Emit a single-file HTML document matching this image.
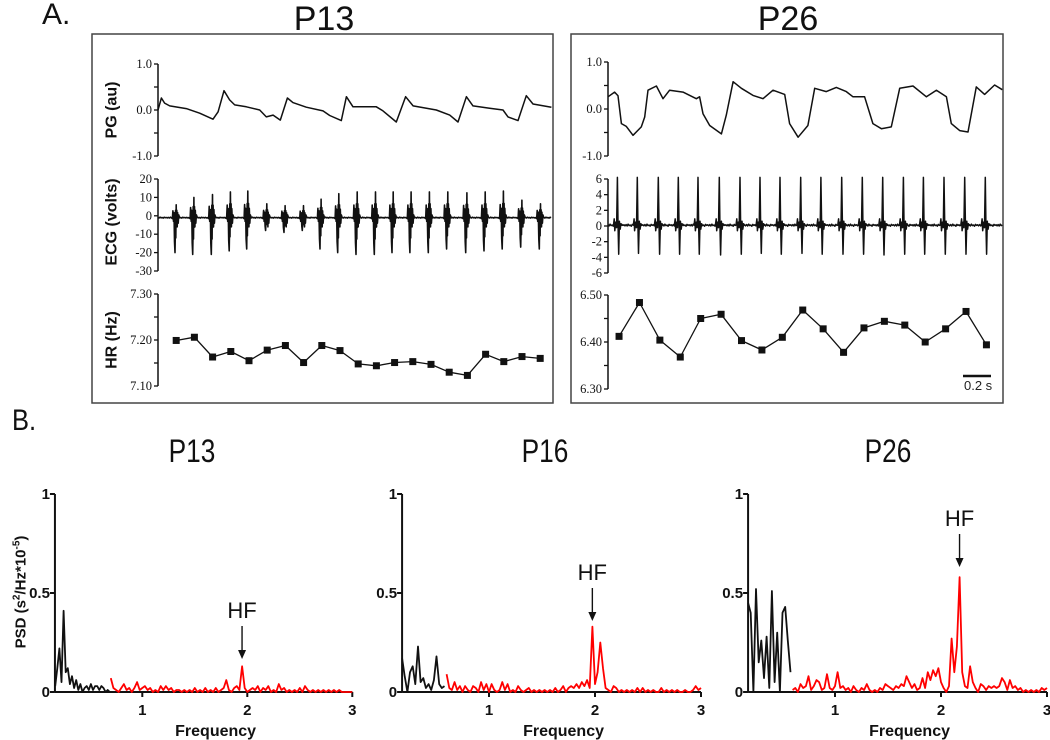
<!DOCTYPE html>
<html><head><meta charset="utf-8"><style>
body{margin:0;background:#fff}
svg{display:block}
.tk{font-family:"Liberation Serif",serif;font-size:12.5px;fill:#111}
.al{font-family:"Liberation Sans",sans-serif;font-weight:bold;font-size:16px;fill:#111}
.tt{font-family:"Liberation Sans",sans-serif;font-size:34px;fill:#111}
.bt{font-family:"Liberation Sans",sans-serif;font-weight:bold;font-size:14px;fill:#111}
</style></head><body>
<svg id="fig" width="1050" height="740" viewBox="0 0 1050 740" xmlns="http://www.w3.org/2000/svg">
<text x="42" y="24" class="tt" style="font-size:30px">A.</text>
<text x="324" y="30" text-anchor="middle" class="tt">P13</text>
<text x="788" y="30" text-anchor="middle" class="tt">P26</text>
<rect x="92" y="34" width="461" height="369" fill="none" stroke="#444" stroke-width="1.5"/>
<rect x="571" y="34" width="432" height="369" fill="none" stroke="#444" stroke-width="1.5"/>
<text x="12" y="430" class="tt" style="font-size:30px;" transform="translate(12,430) scale(0.85,1) translate(-12,-430)">B.</text>
<text x="192" y="462" text-anchor="middle" class="tt" style="font-size:32px" transform="translate(192,0) scale(0.82,1) translate(-192,0)">P13</text>
<text x="545" y="462" text-anchor="middle" class="tt" style="font-size:32px" transform="translate(545,0) scale(0.82,1) translate(-545,0)">P16</text>
<text x="888" y="462" text-anchor="middle" class="tt" style="font-size:32px" transform="translate(888,0) scale(0.82,1) translate(-888,0)">P26</text>
<g id="g"></g>
<line x1="963" y1="376" x2="991" y2="376" stroke="#111" stroke-width="2.5"/>
<text x="964" y="390" style="font-family:'Liberation Sans',sans-serif;font-size:13px;fill:#222">0.2 s</text>
</svg>
<script>
// ---- Panel A data ----
const p13PgT=[0,0.026,0.051,0.09,0.218,0.321,0.423,0.462,0.508,0.551,0.590,0.679,0.782,0.833,0.885,0.941,0.995,1.038,1.141,1.269,1.321,1.410,1.449,1.5,1.679,1.731,1.833,1.905,1.962,2.141,2.244,2.308,2.372,2.423,2.551,2.654,2.692,2.769,2.833,2.885,3.026];
const p13PgV=[0,0.26,0.15,0.09,0.03,-0.07,-0.2,-0.04,0.42,0.22,0.11,0.07,0,-0.15,-0.11,-0.22,0.26,0.16,0.06,-0.02,-0.12,-0.23,0.29,0.07,0.07,-0.02,-0.26,0.29,0.09,0,-0.11,-0.26,0.29,0.09,0.04,0,-0.15,-0.23,0.31,0.13,0.06];
const p26PgT=[0,0.051,0.077,0.103,0.141,0.192,0.256,0.282,0.308,0.372,0.423,0.474,0.577,0.679,0.705,0.731,0.782,0.872,0.91,0.962,1.026,1.115,1.192,1.269,1.359,1.397,1.462,1.538,1.59,1.679,1.756,1.833,1.885,1.974,2.038,2.103,2.179,2.244,2.346,2.449,2.526,2.603,2.641,2.705,2.769,2.833,2.897,2.974,3.033];
const p26PgV=[0.26,0.36,0.28,-0.31,-0.37,-0.56,-0.38,-0.17,0.4,0.49,0.22,0.4,0.36,0.22,0.26,-0.1,-0.35,-0.53,-0.13,0.58,0.44,0.29,0.22,0.4,0.31,-0.31,-0.6,-0.35,0.44,0.37,0.46,0.37,0.26,0.26,-0.31,-0.42,-0.38,0.44,0.49,0.26,0.4,0.26,-0.31,-0.46,-0.49,0.47,0.31,0.51,0.41];
const p13BeatT=[0.131,0.267,0.41,0.548,0.682,0.828,0.969,1.11,1.246,1.382,1.523,1.664,1.8,1.938,2.079,2.22,2.367,2.508,2.648,2.79,2.933];
const p13BeatUp=[6,10,11.5,13,13.5,6.5,5.5,5.5,9,12,13,13,13,13,13,13,12.5,13,13.5,8.5,6.5];
const p13BeatDown=[-20,-21,-21,-19,-18,-8,-9,-8,-18,-20,-21,-21,-20,-20,-20,-18,-20,-19,-18,-17,-18];
const p26BeatT=[0.072,0.225,0.387,0.541,0.692,0.856,1.015,1.169,1.323,1.482,1.638,1.798,1.956,2.113,2.272,2.426,2.585,2.744,2.902];
const p26BeatUp=[6.2,6.2,6.2,6.2,6.2,6.2,6.2,6.2,6.2,6.2,6.2,6.2,6.2,6.2,6.2,6.2,6.2,6.2,6.2];
const p26BeatDown=[-3.6,-3.5,-3.6,-3.6,-3.6,-3.7,-3.6,-3.5,-3.6,-3.5,-3.6,-3.6,-3.6,-3.7,-3.6,-3.6,-3.6,-3.6,-3.6];
const p13HrT=[0.14,0.28,0.42,0.56,0.70,0.84,0.98,1.12,1.26,1.40,1.54,1.68,1.82,1.96,2.10,2.24,2.38,2.52,2.66,2.80,2.94];
const p13HrV=[7.199,7.206,7.163,7.175,7.155,7.178,7.188,7.151,7.188,7.177,7.148,7.144,7.151,7.153,7.147,7.13,7.123,7.169,7.153,7.164,7.160];
const p26HrT=[0.085,0.242,0.399,0.556,0.713,0.87,1.027,1.184,1.341,1.498,1.655,1.812,1.969,2.126,2.283,2.44,2.597,2.754,2.911];
const p26HrV=[6.412,6.484,6.404,6.368,6.450,6.459,6.403,6.383,6.410,6.468,6.428,6.378,6.430,6.444,6.436,6.400,6.428,6.465,6.394];
const pgTicks=["-1.0","0.0","1.0"];
const p13EcgTicks=["-30","-20","-10","0","10","20"];
const p26EcgTicks=["-6","-4","-2","0","2","4","6"];
const p13HrTicks=["7.10","7.20","7.30"];
const p26HrTicks=["6.30","6.40","6.50"];
// ---- Panel B data ----
const psdP13Black=[0.03,0.12,0.22,0.05,0.41,0.1,0.12,0.04,0.08,0.02,0.06,0.01,0.04,0.0,0.02,0.03,0.01,0.04,0.01,0.03,0.03,0.01,0.03,0.02,0.0,0.01,0.0];
const psdP13Red=[0.07,0.02,0.01,0.0,0.02,0.04,0.01,0.02,0.0,0.02,0.05,0.01,0.02,0.03,0.01,0.02,0.0,0.01,0.0,0.03,0.01,0.03,0.01,0.02,0.0,0.01,0.01,0.0,0.01,0.0,0.01,0.0,0.02,0.0,0.01,0.0,0.02,0.0,0.01,0.0,0.02,0.0,0.01,0.02,0.06,0.01,0.0,0.02,0.03,0.01,0.13,0.02,0.0,0.01,0.02,0.01,0.03,0.0,0.02,0.01,0.03,0.0,0.01,0.0,0.04,0.01,0.02,0.0,0.01,0.0,0.01,0.0,0.02,0.0,0.03,0.01,0.0,0.01,0.0,0.01,0.0,0.01,0.0,0.01,0.0,0.01,0.0,0.01,0.0,0.0,0.0,0.0,0.0];
const psdP16Black=[0.17,0.08,0.0,0.1,0.13,0.04,0.23,0.05,0.07,0.02,0.04,0.01,0.06,0.18,0.04,0.02,0.03];
const psdP16Red=[0.09,0.02,0.01,0.05,0.01,0.03,0.0,0.03,0.01,0.0,0.03,0.02,0.0,0.05,0.01,0.04,0.0,0.04,0.01,0.0,0.01,0.05,0.01,0.04,0.0,0.01,0.0,0.03,0.01,0.0,0.01,0.02,0.0,0.01,0.0,0.01,0.0,0.01,0.0,0.01,0.0,0.02,0.0,0.01,0.03,0.0,0.02,0.03,0.02,0.04,0.02,0.05,0.03,0.06,0.02,0.33,0.04,0.1,0.25,0.12,0.02,0.01,0.0,0.03,0.02,0.0,0.01,0.0,0.01,0.0,0.01,0.0,0.02,0.0,0.02,0.0,0.01,0.0,0.01,0.0,0.0,0.02,0.0,0.01,0.0,0.01,0.0,0.01,0.0,0.0,0.01,0.0,0.0,0.01,0.03,0.01,0.02];
const psdP26Black=[0.45,0.4,0.0,0.52,0.15,0.26,0.07,0.28,0.02,0.51,0.05,0.3,0.0,0.4,0.43,0.26,0.1];
const psdP26Red=[0.01,0.02,0.0,0.04,0.02,0.03,0.08,0.01,0.03,0.06,0.05,0.01,0.02,0.09,0.02,0.01,0.03,0.1,0.02,0.03,0.01,0.02,0.0,0.03,0.01,0.0,0.02,0.01,0.04,0.01,0.0,0.01,0.0,0.02,0.01,0.04,0.03,0.02,0.01,0.03,0.02,0.04,0.03,0.08,0.05,0.02,0.04,0.01,0.02,0.07,0.02,0.1,0.06,0.11,0.08,0.12,0.05,0.02,0.0,0.03,0.27,0.1,0.23,0.58,0.1,0.03,0.02,0.13,0.05,0.02,0.0,0.04,0.03,0.01,0.03,0.02,0.03,0.02,0.03,0.07,0.05,0.01,0.06,0.02,0.03,0.01,0.02,0.0,0.01,0.0,0.01,0.0,0.01,0.0,0.02,0.01,0.02];
const psdYTicks=["0","0.5","1"];
const psdXTicks=["1","2","3"];
const noise=[0.3,-0.4,0.5,-0.2,0.1,-0.5,0.4,-0.1,0.2,-0.3];

const NS="http://www.w3.org/2000/svg";
const G=document.getElementById('g');
function mk(tag,attrs,parent){const e=document.createElementNS(NS,tag);for(const k in attrs)e.setAttribute(k,attrs[k]);(parent||G).appendChild(e);return e;}
function lin(d0,d1,r0,r1){return v=>r0+(v-d0)/(d1-d0)*(r1-r0);}

function yAxisA(x,yTop,yBot,vmin,vmax,labels,minorStep,name){
  const y=lin(vmin,vmax,yBot,yTop);
  const ax=mk('line',{x1:x,y1:yTop,x2:x,y2:yBot,stroke:'#111','stroke-width':1.5});
  
  
  for(let v=vmin;v<=vmax+1e-9;v+=minorStep){
    const t=mk('line',{x1:x-4,y1:y(v),x2:x,y2:y(v),stroke:'#111','stroke-width':1.3});
    
    
  }
  labels.forEach(s=>{
    const t=mk('text',{x:x-6,y:y(parseFloat(s))+4,'text-anchor':'end',class:'tk'});
    t.textContent=s;
    
    
  });
  return y;
}
function poly(pts,name,color,w){
  const p=mk('polyline',{points:pts.map(q=>q[0].toFixed(1)+','+q[1].toFixed(1)).join(' '),fill:'none',stroke:color||'#111','stroke-width':w||1.4,'stroke-linejoin':'round'});
  
  
  return p;
}
function xT(x0){return t=>x0+t*130;}

function pgTrace(x0,y,T,V,name){const X=xT(x0);poly(T.map((t,i)=>[X(t),y(V[i])]),name,'#111',1.5);}
function ecgTrace(x0,tEnd,y,BT,UP,DN,shape,base,namp,name,w){
  const X=xT(x0);const pts=[];let t=0,k=0;let bi=0;
  while(t<=tEnd){
    if(bi<BT.length && t>=BT[bi]-0.03){
      shape(BT[bi],UP[bi],DN[bi]).forEach(q=>pts.push([X(q[0]),y(q[1])]));
      t=BT[bi]+0.035;bi++;continue;
    }
    pts.push([X(t),y(base+noise[k%noise.length]*namp)]);k++;t+=0.008;
  }
  poly(pts,name,'#111',w);
}
function hrTrace(x0,y,T,V,name){
  const X=xT(x0);
  poly(T.map((t,i)=>[X(t),y(V[i])]),name+'-line','#111',1.3);
  T.forEach((t,i)=>{
    const r=mk('rect',{x:X(t)-3.5,y:y(V[i])-3.5,width:7,height:7,fill:'#111'});
    
    
  });
}
const shape13=(tb,u,d)=>[[tb-0.03,-1],[tb-0.02,-1.5],[tb-0.016,u*0.45],[tb-0.012,-3],[tb-0.008,u*0.3],[tb-0.004,d*0.7],[tb,d],[tb+0.002,d*0.5],[tb+0.004,u*0.5],[tb+0.006,d*0.6],[tb+0.009,u],[tb+0.011,d*0.3],[tb+0.014,u*0.5],[tb+0.017,-6],[tb+0.02,u*0.3],[tb+0.024,-4],[tb+0.028,0.5],[tb+0.035,-1]];
const shape26=(tb,u,d)=>[[tb-0.03,0.1],[tb-0.024,0.9],[tb-0.02,-0.6],[tb-0.012,0.5],[tb-0.006,-0.2],[tb,u],[tb+0.005,0.4],[tb+0.01,d],[tb+0.016,0.6],[tb+0.022,-0.4],[tb+0.028,0.3],[tb+0.035,0.1]];

// P13 panel
let y=yAxisA(158,64,156,-1,1,pgTicks,0.5,'p13-pg');
pgTrace(158,y,p13PgT,p13PgV,'p13-pg-trace');
y=yAxisA(158,179,271,-30,20,p13EcgTicks,10,'p13-ecg');
ecgTrace(158,3.03,y,p13BeatT,p13BeatUp,p13BeatDown,shape13,-1,0.5,'p13-ecg-trace',1.6);
y=yAxisA(158,294,386,7.10,7.30,p13HrTicks,0.05,'p13-hr');
hrTrace(158,y,p13HrT,p13HrV,'p13-hr');
// P26 panel
y=yAxisA(608,62,156,-1,1,pgTicks,0.5,'p26-pg');
pgTrace(608,y,p26PgT,p26PgV,'p26-pg-trace');
y=yAxisA(608,179,273,-6,6,p26EcgTicks,2,'p26-ecg');
ecgTrace(608,3.04,y,p26BeatT,p26BeatUp,p26BeatDown,shape26,0.1,0.25,'p26-ecg-trace',1.5);
y=yAxisA(608,295,389,6.30,6.50,p26HrTicks,0.05,'p26-hr');
hrTrace(608,y,p26HrT,p26HrV,'p26-hr');

// axis titles A
[["PG (au)",110],["ECG (volts)",222],["HR (Hz)",340]].forEach((a,i)=>{
  const t=mk('text',{x:111,y:a[1],'text-anchor':'middle',class:'al',transform:'rotate(-90 111 '+a[1]+')',dy:'0.35em'});
  t.textContent=a[0];
  
  
});

// Panel B
function psd(ax,x1,x2,name,black,bf0,bstep,red,rf0,rstep,hfX,hfY){
  const X=lin(1,2,x1,x2), Y=lin(0,1,692,494);
  const f0=ax.fStart;
  const xa=X(f0), xe=X(3);
  const a1=mk('line',{x1:xa,y1:Y(1),x2:xa,y2:Y(0),stroke:'#111','stroke-width':2});
  
  
  const a2=mk('line',{x1:xa,y1:Y(0),x2:xe,y2:Y(0),stroke:'#111','stroke-width':2});
  
  
  psdYTicks.forEach(s=>{const v=parseFloat(s);
    const l=mk('line',{x1:xa-5,y1:Y(v),x2:xa,y2:Y(v),stroke:'#111','stroke-width':2});
    
    
    const t=mk('text',{x:xa-5,y:Y(v)+5,'text-anchor':'end',class:'bt',style:'font-size:15px'});t.textContent=s;
    
    });
  psdXTicks.forEach(s=>{const v=parseFloat(s);
    const l=mk('line',{x1:X(v),y1:Y(0),x2:X(v),y2:Y(0)+5,stroke:'#111','stroke-width':2});
    
    
    const t=mk('text',{x:X(v),y:715,'text-anchor':'middle',class:'bt',style:'font-size:15px'});t.textContent=s;
    
    });
  const ft=mk('text',{x:(xa+xe)/2+12,y:736,'text-anchor':'middle',class:'bt',style:'font-size:16px'});ft.textContent='Frequency';
  
  
  poly(black.map((v,i)=>[X(bf0+i*bstep),Y(v)]),name+'-lf-series','#111',1.8);
  poly(red.map((v,i)=>[X(rf0+i*rstep),Y(v)]),name+'-hf-series','#f00',1.8);
  const hx=X(hfX);
  const ht=mk('text',{x:hx,y:hfY,'text-anchor':'middle',style:'font-family:Liberation Sans,sans-serif;font-size:22px;fill:#111'});ht.textContent='HF';
  
  
  const al=mk('line',{x1:hx,y1:hfY+8,x2:hx,y2:hfY+36,stroke:'#111','stroke-width':1.4});
  
  
  const ah=mk('polygon',{points:`${hx-4},${hfY+32} ${hx+4},${hfY+32} ${hx},${hfY+41}`,fill:'#111'});
  
  
}
psd({fStart:0.168},142.3,247.3,'psd-p13',psdP13Black,0.17,0.02,psdP13Red,0.7,0.025,1.95,618);
psd({fStart:0.18},489,595,'psd-p16',psdP16Black,0.18,0.025,psdP16Red,0.6,0.025,1.975,580);
psd({fStart:0.18},835,941,'psd-p26',psdP26Black,0.18,0.025,psdP26Red,0.6,0.025,2.175,526);

const yl=mk('text',{x:20,y:592,'text-anchor':'middle',class:'bt',style:'font-size:15px',transform:'rotate(-90 20 592)',dy:'0.35em'});


yl.innerHTML='PSD (s<tspan dy="-6" font-size="10">2</tspan><tspan dy="6">/Hz*10</tspan><tspan dy="-6" font-size="10">-5</tspan><tspan dy="6">)</tspan>';
</script>
</body></html>
